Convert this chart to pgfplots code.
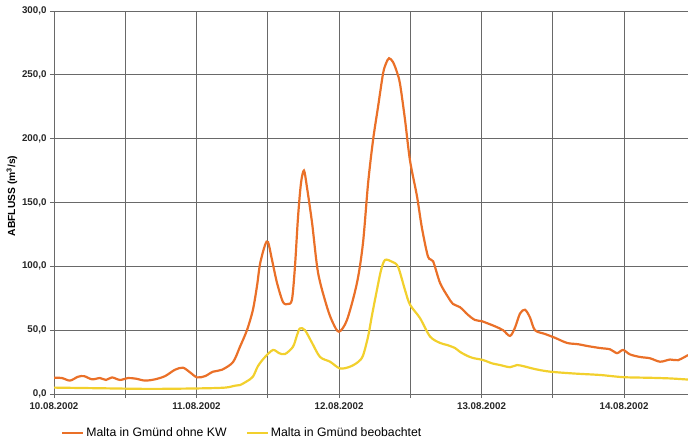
\documentclass[border=0pt]{standalone}
\usepackage{pgfplots}
\pgfplotsset{compat=1.18}
\usepackage{fontspec}
\setmainfont{Liberation Sans}
\definecolor{orangeline}{RGB}{234,112,40}
\definecolor{yellowline}{RGB}{242,208,45}
\definecolor{gridgray}{RGB}{105,105,105}
\begin{document}
\begin{tikzpicture}
\begin{axis}[
  at={(0,0)}, anchor=south west,
  scale only axis, width=634bp, height=383bp,
  xmin=0, xmax=4.449, ymin=0, ymax=300,
  xtick={0,0.5,1,1.5,2,2.5,3,3.5,4},
  xticklabels={10.08.2002,,11.08.2002,,12.08.2002,,13.08.2002,,14.08.2002},
  ytick={0,50,100,150,200,250,300},
  yticklabel style={/pgf/number format/.cd, fixed, fixed zerofill, precision=1, use comma},
  /pgf/number format/assume math mode=true,
  ticklabel style={font=\fontsize{9.8}{11}\selectfont\bfseries, text=black!85},
  xtick pos=bottom, ytick pos=left,
  tick align=outside, major tick length=4bp,
  tick style={gridgray, line width=0.8pt},
  xticklabel style={yshift=-1bp},
  grid=major,
  major grid style={gridgray, line width=0.9pt},
  axis line style={gridgray, line width=0.9pt},
  ylabel={ABFLUSS (m\textsuperscript{3}/s)},
  every axis y label/.style={at={(axis description cs:0,0.517)}, xshift=-42bp, rotate=90, anchor=center, font=\fontsize{10.3}{12}\selectfont\bfseries},
  legend columns=2,
  legend style={at={(axis description cs:0.011,-0.102)}, anchor=west, draw=none, fill=none,
    font=\fontsize{12.3}{14}\selectfont, inner sep=0pt,
    /tikz/every even column/.append style={column sep=17bp}},
  legend image code/.code={\draw[#1, line width=2.2pt] (0bp,0bp) -- (21bp,0bp);},
]
\addplot[orangeline, line width=2.2pt, smooth, tension=0.5] coordinates {
(0.000,12.7) (0.056,12.5) (0.112,10.5) (0.168,13.5) (0.211,14) (0.267,11.5)
(0.323,12.5) (0.365,11) (0.407,13) (0.463,11) (0.519,12.5) (0.575,12)
(0.639,10.5) (0.709,11.5) (0.779,14) (0.849,19) (0.905,20.6) (0.954,17)
(1.004,13) (1.060,14) (1.116,17.5) (1.179,19) (1.256,25) (1.305,37)
(1.354,50) (1.396,66) (1.425,85) (1.446,102) (1.481,116.7) (1.502,119)
(1.530,105) (1.565,87) (1.607,72) (1.642,70.5) (1.670,74) (1.691,100)
(1.712,138) (1.733,165) (1.754,175) (1.775,162) (1.811,134) (1.853,95)
(1.916,68) (1.958,55.6) (2.000,48.8) (2.056,58) (2.126,87) (2.168,118)
(2.204,165) (2.239,199) (2.274,225) (2.309,251) (2.330,259) (2.351,263)
(2.379,260) (2.407,252) (2.428,243) (2.463,215) (2.498,183) (2.547,155)
(2.582,130) (2.625,107.5) (2.660,104) (2.709,87) (2.765,76) (2.800,70.5)
(2.849,68) (2.905,62) (2.954,58) (3.004,57) (3.039,55.5) (3.095,53)
(3.151,50) (3.200,45.5) (3.235,52) (3.270,63) (3.305,66) (3.340,60)
(3.375,50) (3.446,47) (3.516,44) (3.600,40) (3.677,39) (3.747,37.5)
(3.832,36) (3.902,35) (3.951,32) (3.993,34.5) (4.042,31) (4.112,29)
(4.182,28) (4.253,25.3) (4.323,27) (4.379,26.5) (4.449,30.5)
};
\addlegendentry{Malta in Gmünd ohne KW}
\addplot[yellowline, line width=2.2pt, smooth, tension=0.5] coordinates {
(0.000,5) (0.323,4.5) (0.674,4) (1.025,4.4) (1.200,5) (1.270,6.5)
(1.305,7) (1.354,10) (1.396,13.6) (1.432,22) (1.481,29) (1.537,34.5)
(1.579,32) (1.621,31.3) (1.677,37) (1.705,46) (1.726,51.4) (1.761,50)
(1.811,40) (1.867,29) (1.937,25.3) (2.007,20) (2.077,21.4) (2.133,25)
(2.168,30) (2.204,45) (2.232,62) (2.267,82) (2.295,97) (2.323,105)
(2.372,103.6) (2.414,99.7) (2.463,81.5) (2.498,70) (2.568,59.5) (2.639,45)
(2.709,40) (2.758,38.4) (2.814,36) (2.849,33) (2.898,30) (2.940,28.2)
(3.011,26.6) (3.074,24) (3.130,22.7) (3.200,21) (3.249,22.7) (3.305,21.5)
(3.375,19.5) (3.481,17.5) (3.656,16) (3.832,14.9) (3.993,13.2) (4.182,12.7)
(4.323,12.2) (4.449,11.3)
};
\addlegendentry{Malta in Gmünd beobachtet}
\end{axis}
\pgfresetboundingbox
\path[use as bounding box] (-54bp,-46bp) rectangle (634bp,394bp);
\end{tikzpicture}
\end{document}
